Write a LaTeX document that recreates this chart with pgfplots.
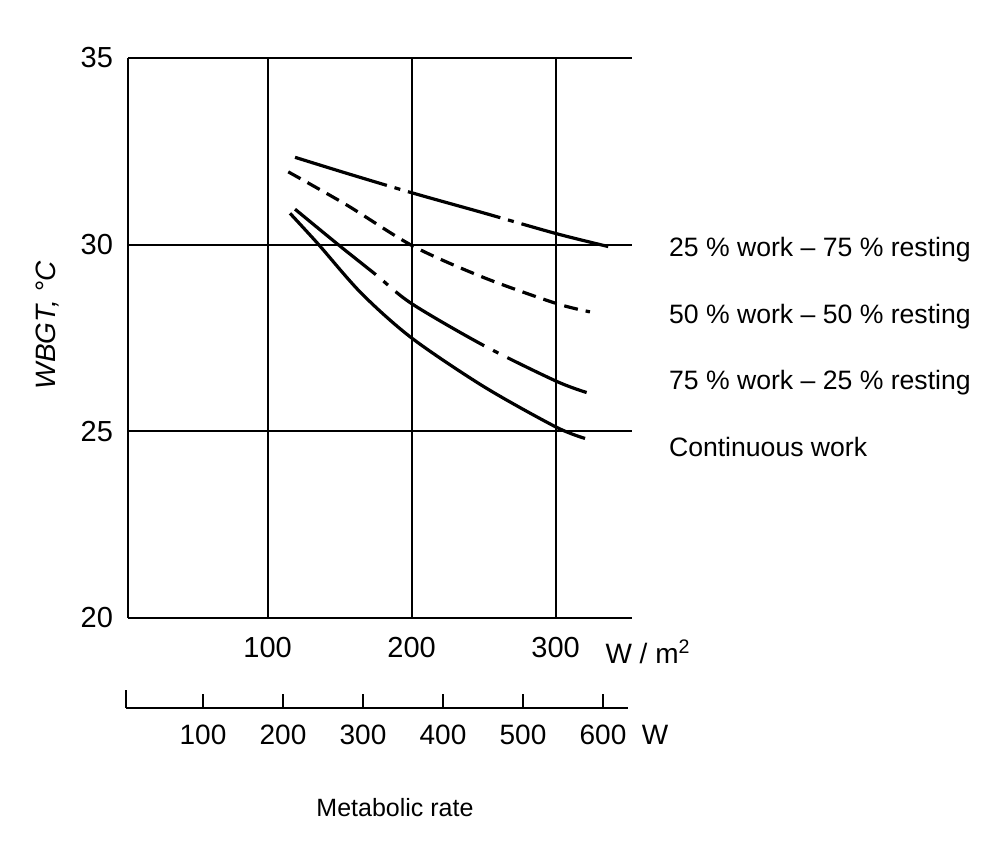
\documentclass[border=0pt]{standalone}
\usepackage{fontspec}
\setmainfont{Liberation Sans}
\usepackage{pgfplots}
\pgfplotsset{compat=1.18}
\begin{document}
\begin{tikzpicture}
\useasboundingbox (0pt,0pt) rectangle (493.5pt,421pt);
% main chart, WBGT against metabolic rate per m2
\begin{axis}[
    at={(64pt,112pt)}, anchor=south west,
    scale only axis, width=252pt, height=280pt,
    xmin=3, xmax=353, ymin=20, ymax=35,
    axis x line*=bottom, axis y line*=left,
    axis line style={-, line width=1pt},
    xtick={100,200,300}, ytick={20,25,30,35},
    major tick length=0pt,
    grid=major, grid style={black, line width=1pt},
    tick label style={font=\fontsize{14.5}{16}\selectfont},
    /pgf/number format/assume math mode=true,
    xticklabel style={yshift=-6pt},
    yticklabel style={xshift=-4pt},
    clip=false,
]
% 25 % work - 75 % resting
\addplot[black, line width=1.6pt, smooth, dash pattern={on 48pt off 4pt on 3pt off 4pt}]
    coordinates {(119,32.34)(155,31.91)(201,31.38)(250,30.85)(300,30.30)(336.5,29.95)};
% 50 % work - 50 % resting
\addplot[black, line width=1.6pt, smooth, dash pattern={on 7pt off 4pt}]
    coordinates {(114.3,31.95)(155,31.06)(201,29.96)(250,29.12)(300,28.43)(323.8,28.20)};
% 75 % work - 25 % resting
\addplot[black, line width=1.6pt, smooth, dash pattern={on 52pt off 5pt on 3pt off 5pt}]
    coordinates {(119,30.95)(149,30.0)(175,29.2)(200,28.42)(250,27.30)(300,26.35)(321.5,26.04)};
% continuous work
\addplot[black, line width=1.6pt, smooth]
    coordinates {(115.5,30.84)(135,30.02)(165,28.70)(200,27.50)(250,26.20)(300,25.12)(320.4,24.81)};
\end{axis}
% second scale in W
\begin{axis}[
    at={(63pt,67pt)}, anchor=south west,
    scale only axis, width=251pt, height=20pt,
    xmin=3.75, xmax=631.25, ymin=0, ymax=1,
    axis x line*=bottom, axis y line=none,
    axis line style={-, line width=1pt},
    xtick={100,200,...,600}, xtick align=inside,
    major tick length=7pt,
    tick style={black, line width=1pt},
    extra x ticks={3.75}, extra x tick labels={{}},
    extra x tick style={major tick length=9pt},
    tick label style={font=\fontsize{14}{16}\selectfont},
    xticklabel style={yshift=-5pt},
    /pgf/number format/assume math mode=true,
]
\end{axis}
\node[font=\fontsize{14}{16}\selectfont] at (324pt,95pt) {W / m\textsuperscript{2}};
\node[font=\fontsize{14}{16}\selectfont] at (327.5pt,53.5pt) {W};
\node[font=\fontsize{12.5}{14}\selectfont] at (197.5pt,17pt) {Metabolic rate};
\node[rotate=90, font=\itshape\fontsize{14}{16}\selectfont] at (24pt,258.5pt) {WBGT, °C};
\begin{scope}[every node/.style={anchor=west, font=\fontsize{13.3}{15}\selectfont}]
\node at (331pt,296pt) {25 \% work -- 75 \% resting};
\node at (331pt,262.5pt) {50 \% work -- 50 \% resting};
\node at (331pt,229.5pt) {75 \% work -- 25 \% resting};
\node at (331pt,197.5pt) {Continuous work};
\end{scope}
\end{tikzpicture}
\end{document}
